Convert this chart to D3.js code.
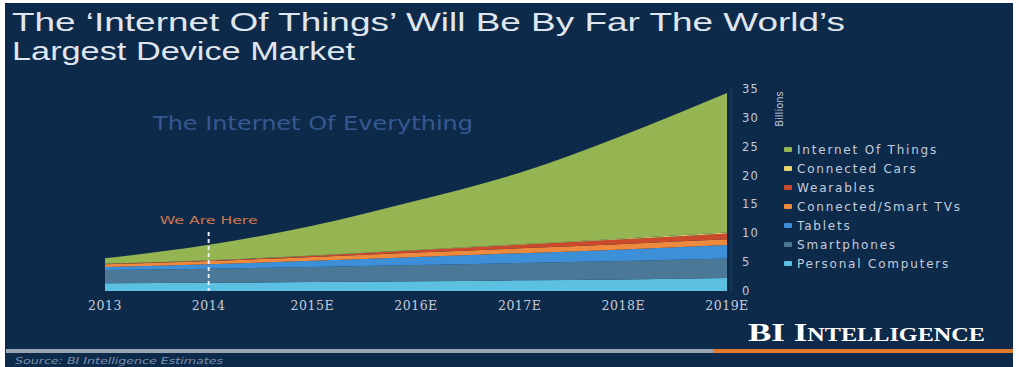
<!DOCTYPE html>
<html><head><meta charset="utf-8">
<script src="https://cdn.jsdelivr.net/npm/d3@7"></script>
<style>
html,body{margin:0;padding:0;background:#fff;}
svg{display:block;}
</style></head>
<body>
<svg id="chart" width="1019" height="367"></svg>
<script>
const years = [2013, 2014, 2015, 2016, 2017, 2018, 2019];
const yearLabels = ["2013", "2014", "2015E", "2016E", "2017E", "2018E", "2019E"];
const personalComputers = [1.35, 1.45, 1.55, 1.7, 1.85, 2.0, 2.25];
const smartphones = [2.3, 2.4, 2.6, 2.8, 3.0, 3.2, 3.4];
const tablets = [0.5, 0.8, 1.1, 1.4, 1.7, 2.0, 2.3];
const connectedTVs = [0.5, 0.55, 0.65, 0.75, 0.85, 0.95, 1.0];
const wearables = [0.05, 0.1, 0.2, 0.4, 0.6, 0.8, 1.0];
const connectedCars = [0.02, 0.03, 0.05, 0.07, 0.1, 0.15, 0.2];
const internetOfThings = [0.95, 2.67, 5.15, 8.5, 12.4, 17.9, 24.15];
const yTicks = [0, 5, 10, 15, 20, 25, 30, 35];
const seriesNames = ["Personal Computers", "Smartphones", "Tablets", "Connected/Smart TVs", "Wearables", "Connected Cars", "Internet Of Things"];
const seriesColors = ["#5cc0e0", "#4a7896", "#3d8fd8", "#ee8a3e", "#cc4a2c", "#e8d36a", "#95b552"];
const seriesValues = [personalComputers, smartphones, tablets, connectedTVs, wearables, connectedCars, internetOfThings];
const markerYear = 2014;

const svg = d3.select("#chart");
svg.append("rect").attr("x", 5).attr("y", 3).attr("width", 1008).attr("height", 364).attr("fill", "#0e2a4b");

const x = d3.scaleLinear().domain([2013, 2019]).range([105, 727]);
const y = d3.scaleLinear().domain([0, 35]).range([291, 89]);

const table = years.map((yr, i) => {
  const o = {year: yr};
  seriesNames.forEach((n, k) => o[n] = seriesValues[k][i]);
  return o;
});
const stacked = d3.stack().keys(seriesNames)(table);
const area = d3.area()
  .x(d => x(d.data.year))
  .y0(d => y(d[0]))
  .y1(d => y(d[1]))
  .curve(d3.curveMonotoneX);

svg.append("g").selectAll("path").data(stacked).join("path")
  .attr("d", area)
  .attr("fill", (d, i) => seriesColors[i]);

// axis line
svg.append("line").attr("x1", 731).attr("x2", 731).attr("y1", y(35)).attr("y2", y(0))
  .attr("stroke", "#183658").attr("stroke-width", 2);

// y tick labels
svg.append("g").selectAll("text").data(yTicks).join("text")
  .attr("x", 742).attr("y", d => y(d)).attr("dy", "0.35em")
  .attr("fill", "#c2ccd9").attr("font-family", "DejaVu Sans, sans-serif")
  .attr("font-size", 11.5).attr("letter-spacing", 1.2)
  .text(d => d);

svg.append("text").attr("transform", "translate(783,109) rotate(-90)")
  .attr("text-anchor", "middle").attr("fill", "#b9c4d3")
  .attr("font-family", "DejaVu Sans, sans-serif").attr("font-size", 10)
  .text("Billions");

// x labels
svg.append("g").selectAll("text").data(years).join("text")
  .attr("x", d => x(d)).attr("y", 310).attr("text-anchor", "middle")
  .attr("fill", "#c4ccd8").attr("font-family", "DejaVu Serif, serif")
  .attr("font-size", 12.5).attr("letter-spacing", 0.5)
  .text((d, i) => yearLabels[i]);

// We are here marker
svg.append("line").attr("x1", x(markerYear)).attr("x2", x(markerYear))
  .attr("y1", 232).attr("y2", y(0))
  .attr("stroke", "#e8eef5").attr("stroke-width", 2).attr("stroke-dasharray", "4,3");
svg.append("text").attr("x", x(markerYear)).attr("y", 224).attr("text-anchor", "middle")
  .attr("fill", "#c9764f").attr("font-family", "DejaVu Sans, sans-serif").attr("font-size", 10)
  .attr("textLength", 98).attr("lengthAdjust", "spacingAndGlyphs")
  .text("We Are Here");

svg.append("text").attr("x", 153).attr("y", 130)
  .attr("fill", "#375890").attr("font-family", "DejaVu Sans, sans-serif").attr("font-size", 19)
  .attr("textLength", 320).attr("lengthAdjust", "spacingAndGlyphs")
  .text("The Internet Of Everything");

// legend
const legendOrder = seriesNames.map((n, i) => i).reverse();
const lg = svg.append("g").selectAll("g").data(legendOrder).join("g")
  .attr("transform", (d, j) => `translate(784,${150 + j * 19})`);
lg.append("rect").attr("x", 0).attr("y", -3).attr("width", 8).attr("height", 5).attr("rx", 1)
  .attr("fill", d => seriesColors[d]);
lg.append("text").attr("x", 13).attr("y", 0).attr("dy", "0.35em")
  .attr("fill", "#c3ccd9").attr("font-family", "DejaVu Sans, sans-serif")
  .attr("font-size", 12).attr("letter-spacing", 1.8)
  .text(d => seriesNames[d]);

// title
const title = svg.append("g").attr("fill", "#e0e6ee").attr("font-family", "Liberation Sans, Arial, sans-serif").attr("font-size", 26);
title.append("text").attr("x", 12).attr("y", 31)
  .attr("textLength", 833).attr("lengthAdjust", "spacingAndGlyphs")
  .text("The \u2018Internet Of  Things\u2019  Will Be By Far The World\u2019s");
title.append("text").attr("x", 12).attr("y", 60)
  .attr("textLength", 343).attr("lengthAdjust", "spacingAndGlyphs")
  .text("Largest Device Market");

// footer
svg.append("text").attr("x", 748).attr("y", 341)
  .attr("fill", "#ffffff").attr("font-family", "Liberation Serif, serif").attr("font-weight", "bold")
  .attr("font-size", 26).attr("font-variant", "small-caps")
  .attr("textLength", 237).attr("lengthAdjust", "spacingAndGlyphs")
  .text("BI Intelligence");
svg.append("rect").attr("x", 6).attr("y", 349).attr("width", 707).attr("height", 4).attr("fill", "#9aa6b4");
svg.append("rect").attr("x", 713).attr("y", 349).attr("width", 300).attr("height", 4).attr("fill", "#e07a30");
svg.append("text").attr("x", 15).attr("y", 364)
  .attr("fill", "#7f92ad").attr("font-family", "DejaVu Sans, sans-serif").attr("font-style", "italic")
  .attr("font-size", 8).attr("textLength", 208).attr("lengthAdjust", "spacingAndGlyphs")
  .text("Source: BI Intelligence Estimates");
</script>
</body></html>
